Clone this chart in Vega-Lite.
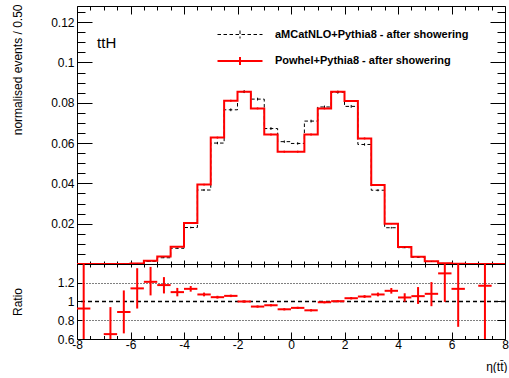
{
  "$schema": "https://vega.github.io/schema/vega-lite/v6.json",
  "padding": {"left": 10, "top": 3, "right": 0, "bottom": 0},
  "spacing": 0,
  "bounds": "flush",
  "config": {
    "font": "Liberation Sans",
    "view": {"stroke": "black", "strokeWidth": 1},
    "axis": {
      "domain": false, "grid": false, "labelFlush": false,
      "labelFont": "Liberation Sans", "labelFontSize": 12, "labelColor": "black",
      "tickColor": "black", "tickWidth": 1,
      "titleFont": "Liberation Sans", "titleFontSize": 12, "titleFontWeight": "normal", "titleColor": "black"
    }
  },
  "datasets": {
    "h": [
      {"lo": -8, "hi": -7.5, "c": -7.75, "amc": 0.000011, "amc_e": 0.000005, "pow": 0.00001, "pow_e": 0.000005, "r": 0.925, "rlo": 0.5, "rhi": 1.5},
      {"lo": -7.5, "hi": -7, "c": -7.25, "amc": 0, "amc_e": 0, "pow": 0, "pow_e": 0, "r": null, "rlo": null, "rhi": null},
      {"lo": -7, "hi": -6.5, "c": -6.75, "amc": 0.00003, "amc_e": 0.00001, "pow": 0.00002, "pow_e": 0.00001, "r": 0.652, "rlo": 0.5, "rhi": 0.94},
      {"lo": -6.5, "hi": -6, "c": -6.25, "amc": 0.00006, "amc_e": 0.00002, "pow": 0.00005, "pow_e": 0.00002, "r": 0.888, "rlo": 0.66, "rhi": 1.118},
      {"lo": -6, "hi": -5.5, "c": -5.75, "amc": 0.00026, "amc_e": 0.00004, "pow": 0.0003, "pow_e": 0.00004, "r": 1.14, "rlo": 0.925, "rhi": 1.355},
      {"lo": -5.5, "hi": -5, "c": -5.25, "amc": 0.0013, "amc_e": 0.0001, "pow": 0.0016, "pow_e": 0.0001, "r": 1.21, "rlo": 1.065, "rhi": 1.369},
      {"lo": -5, "hi": -4.5, "c": -4.75, "amc": 0.0031, "amc_e": 0.00015, "pow": 0.0037, "pow_e": 0.00015, "r": 1.175, "rlo": 1.086, "rhi": 1.26},
      {"lo": -4.5, "hi": -4, "c": -4.25, "amc": 0.0078, "amc_e": 0.0002, "pow": 0.0085, "pow_e": 0.0002, "r": 1.1, "rlo": 1.055, "rhi": 1.145},
      {"lo": -4, "hi": -3.5, "c": -3.75, "amc": 0.0181, "amc_e": 0.0004, "pow": 0.0204, "pow_e": 0.0003, "r": 1.135, "rlo": 1.105, "rhi": 1.165},
      {"lo": -3.5, "hi": -3, "c": -3.25, "amc": 0.0367, "amc_e": 0.0005, "pow": 0.0394, "pow_e": 0.0004, "r": 1.075, "rlo": 1.055, "rhi": 1.095},
      {"lo": -3, "hi": -2.5, "c": -2.75, "amc": 0.06, "amc_e": 0.0006, "pow": 0.0627, "pow_e": 0.0005, "r": 1.046, "rlo": 1.031, "rhi": 1.061},
      {"lo": -2.5, "hi": -2, "c": -2.25, "amc": 0.0765, "amc_e": 0.0007, "pow": 0.081, "pow_e": 0.0005, "r": 1.06, "rlo": 1.047, "rhi": 1.073},
      {"lo": -2, "hi": -1.5, "c": -1.75, "amc": 0.0855, "amc_e": 0.0007, "pow": 0.0854, "pow_e": 0.0005, "r": 1.0, "rlo": 0.988, "rhi": 1.012},
      {"lo": -1.5, "hi": -1, "c": -1.25, "amc": 0.0818, "amc_e": 0.0007, "pow": 0.0772, "pow_e": 0.0005, "r": 0.946, "rlo": 0.934, "rhi": 0.958},
      {"lo": -1, "hi": -0.5, "c": -0.75, "amc": 0.0672, "amc_e": 0.0007, "pow": 0.0643, "pow_e": 0.0005, "r": 0.96, "rlo": 0.948, "rhi": 0.972},
      {"lo": -0.5, "hi": 0, "c": -0.25, "amc": 0.0607, "amc_e": 0.0006, "pow": 0.0557, "pow_e": 0.0005, "r": 0.917, "rlo": 0.905, "rhi": 0.929},
      {"lo": 0, "hi": 0.5, "c": 0.25, "amc": 0.0598, "amc_e": 0.0006, "pow": 0.0557, "pow_e": 0.0005, "r": 0.932, "rlo": 0.92, "rhi": 0.944},
      {"lo": 0.5, "hi": 1, "c": 0.75, "amc": 0.0709, "amc_e": 0.0007, "pow": 0.0642, "pow_e": 0.0005, "r": 0.906, "rlo": 0.894, "rhi": 0.918},
      {"lo": 1, "hi": 1.5, "c": 1.25, "amc": 0.0779, "amc_e": 0.0007, "pow": 0.0772, "pow_e": 0.0005, "r": 0.992, "rlo": 0.98, "rhi": 1.004},
      {"lo": 1.5, "hi": 2, "c": 1.75, "amc": 0.0852, "amc_e": 0.0007, "pow": 0.0854, "pow_e": 0.0005, "r": 1.003, "rlo": 0.991, "rhi": 1.015},
      {"lo": 2, "hi": 2.5, "c": 2.25, "amc": 0.0782, "amc_e": 0.0007, "pow": 0.0809, "pow_e": 0.0005, "r": 1.035, "rlo": 1.022, "rhi": 1.048},
      {"lo": 2.5, "hi": 3, "c": 2.75, "amc": 0.0593, "amc_e": 0.0006, "pow": 0.0623, "pow_e": 0.0005, "r": 1.053, "rlo": 1.038, "rhi": 1.068},
      {"lo": 3, "hi": 3.5, "c": 3.25, "amc": 0.0366, "amc_e": 0.0005, "pow": 0.0392, "pow_e": 0.0004, "r": 1.075, "rlo": 1.055, "rhi": 1.095},
      {"lo": 3.5, "hi": 4, "c": 3.75, "amc": 0.018, "amc_e": 0.0004, "pow": 0.02, "pow_e": 0.0003, "r": 1.114, "rlo": 1.084, "rhi": 1.144},
      {"lo": 4, "hi": 4.5, "c": 4.25, "amc": 0.0081, "amc_e": 0.0002, "pow": 0.0084, "pow_e": 0.0002, "r": 1.043, "rlo": 0.998, "rhi": 1.088},
      {"lo": 4.5, "hi": 5, "c": 4.75, "amc": 0.0034, "amc_e": 0.00015, "pow": 0.0036, "pow_e": 0.00015, "r": 1.057, "rlo": 0.974, "rhi": 1.154},
      {"lo": 5, "hi": 5.5, "c": 5.25, "amc": 0.0013, "amc_e": 0.0001, "pow": 0.0014, "pow_e": 0.0001, "r": 1.082, "rlo": 0.95, "rhi": 1.207},
      {"lo": 5.5, "hi": 6, "c": 5.75, "amc": 0.0003, "amc_e": 0.00004, "pow": 0.0004, "pow_e": 0.00004, "r": 1.3, "rlo": 0.996, "rhi": 1.5},
      {"lo": 6, "hi": 6.5, "c": 6.25, "amc": 0.00007, "amc_e": 0.00002, "pow": 0.00008, "pow_e": 0.00002, "r": 1.135, "rlo": 0.73, "rhi": 1.5},
      {"lo": 6.5, "hi": 7, "c": 6.75, "amc": 0, "amc_e": 0, "pow": 0, "pow_e": 0, "r": null, "rlo": null, "rhi": null},
      {"lo": 7, "hi": 7.5, "c": 7.25, "amc": 0.000017, "amc_e": 0.00001, "pow": 0.00002, "pow_e": 0.00001, "r": 1.168, "rlo": 0.5, "rhi": 1.5},
      {"lo": 7.5, "hi": 8, "c": 7.75, "amc": 0, "amc_e": 0, "pow": 0, "pow_e": 0, "r": null, "rlo": null, "rhi": null},
      {"lo": 8, "hi": null, "c": null, "amc": 0, "amc_e": null, "pow": 0, "pow_e": null, "r": null, "rlo": null, "rhi": null}
    ]
  },
  "vconcat": [
    {
      "width": 428,
      "height": 258,
      "data": {"name": "h"},
      "resolve": {"axis": {"x": "independent", "y": "independent"}},
      "layer": [
        {
          "transform": [{"filter": "datum.c != null"}],
          "mark": {"type": "rule", "opacity": 0},
          "encoding": {
            "x": {"field": "c", "type": "quantitative", "scale": {"domain": [-8, 8], "nice": false, "zero": false}, "axis": null},
            "y": {"field": "pow", "type": "quantitative", "scale": {"domain": [0, 0.128], "nice": false}, "axis": {"orient": "right", "values": [0.005, 0.01, 0.015, 0.02, 0.025, 0.03, 0.035, 0.04, 0.045, 0.05, 0.055, 0.06, 0.065, 0.07, 0.075, 0.08, 0.085, 0.09, 0.095, 0.1, 0.105, 0.11, 0.115, 0.12, 0.125], "tickSize": -8, "labels": false, "title": null}}
          }
        },
        {
          "transform": [{"fold": ["amc", "pow"], "as": ["s", "v"]}],
          "mark": {"type": "line", "interpolate": "step-after", "clip": true},
          "encoding": {
            "x": {"field": "lo", "type": "quantitative", "scale": {"domain": [-8, 8], "nice": false, "zero": false}, "axis": {"orient": "bottom", "values": [-8, -6, -4, -2, 0, 2, 4, 6, 8], "tickSize": -4, "labels": false, "title": null}},
            "y": {"field": "v", "type": "quantitative", "scale": {"domain": [0, 0.128], "nice": false}, "axis": {"orient": "left", "values": [0.02, 0.04, 0.06, 0.08, 0.1, 0.12], "ticks": false, "labelPadding": 3, "labelExpr": "'' + datum.value", "title": "normalised events / 0.50", "titleAnchor": "end", "titleAlign": "right", "titleAngle": 270, "titleBaseline": "bottom", "titleX": -53, "titleY": -2}},
            "color": {"field": "s", "type": "nominal", "scale": {"domain": ["amc", "pow"], "range": ["black", "red"]},
              "legend": {"orient": "none", "legendX": 152, "legendY": 18, "title": null, "padding": 0, "symbolType": "M-2.25,0L2.25,0M0,-0.4L0,0.4", "symbolSize": 400, "rowPadding": 9, "labelOffset": 24, "labelFont": "Liberation Sans", "labelFontSize": 11, "labelFontWeight": "bold", "labelColor": "black", "labelLimit": 300,
                "labelExpr": "datum.label == 'amc' ? 'aMCatNLO+Pythia8 - after showering' : 'Powhel+Pythia8 - after showering'"}},
            "strokeDash": {"field": "s", "type": "nominal", "scale": {"domain": ["amc", "pow"], "range": [[3.5, 2.5], [1, 0]]}},
            "strokeWidth": {"field": "s", "type": "nominal", "scale": {"domain": ["amc", "pow"], "range": [1, 2]}}
          }
        },
        {
          "transform": [{"filter": "datum.c != null"}],
          "mark": {"type": "errorbar", "color": "black", "thickness": 1},
          "encoding": {
            "x": {"field": "c", "type": "quantitative", "scale": {"domain": [-8, 8], "nice": false, "zero": false}, "axis": {"orient": "top", "values": [-8, -6, -4, -2, 0, 2, 4, 6, 8], "tickSize": -8, "labels": false, "title": null}},
            "y": {"field": "amc", "type": "quantitative", "scale": {"domain": [0, 0.128], "nice": false}, "axis": {"orient": "right", "values": [0.02, 0.04, 0.06, 0.08, 0.1, 0.12], "tickSize": -15, "labels": false, "title": null}},
            "yError": {"field": "amc_e"}
          }
        },
        {
          "transform": [{"filter": "datum.c != null"}],
          "mark": {"type": "errorbar", "color": "red", "thickness": 1.5},
          "encoding": {
            "x": {"field": "c", "type": "quantitative", "scale": {"domain": [-8, 8], "nice": false, "zero": false}, "axis": {"orient": "bottom", "values": [-7.5, -7, -6.5, -5.5, -5, -4.5, -3.5, -3, -2.5, -1.5, -1, -0.5, 0.5, 1, 1.5, 2.5, 3, 3.5, 4.5, 5, 5.5, 6.5, 7, 7.5], "tickSize": -3, "labels": false, "title": null}},
            "y": {"field": "pow", "type": "quantitative", "scale": {"domain": [0, 0.128], "nice": false}, "axis": {"orient": "left", "values": [0.02, 0.04, 0.06, 0.08, 0.1, 0.12], "tickSize": -15, "labels": false, "title": null}},
            "yError": {"field": "pow_e"}
          }
        },
        {
          "data": {"values": [{"label": "ttH"}]},
          "mark": {"type": "text", "align": "left", "baseline": "alphabetic", "fontSize": 15, "font": "Liberation Sans", "color": "black"},
          "encoding": {
            "text": {"field": "label", "type": "nominal"},
            "x": {"datum": -7.25, "type": "quantitative", "scale": {"domain": [-8, 8], "nice": false, "zero": false}, "axis": {"orient": "top", "values": [-7.5, -7, -6.5, -5.5, -5, -4.5, -3.5, -3, -2.5, -1.5, -1, -0.5, 0.5, 1, 1.5, 2.5, 3, 3.5, 4.5, 5, 5.5, 6.5, 7, 7.5], "tickSize": -4, "labels": false, "title": null}},
            "y": {"datum": 0.1072, "type": "quantitative", "scale": {"domain": [0, 0.128], "nice": false}, "axis": {"orient": "left", "values": [0.005, 0.01, 0.015, 0.025, 0.03, 0.035, 0.045, 0.05, 0.055, 0.065, 0.07, 0.075, 0.085, 0.09, 0.095, 0.105, 0.11, 0.115, 0.125], "tickSize": -8, "labels": false, "title": null}}
          }
        }
      ]
    },
    {
      "width": 428,
      "height": 75,
      "data": {"name": "h"},
      "resolve": {"axis": {"x": "independent", "y": "independent"}},
      "layer": [
        {
          "transform": [{"filter": "datum.r != null"}],
          "mark": {"type": "rule", "opacity": 0},
          "encoding": {
            "x": {"field": "c", "type": "quantitative", "scale": {"domain": [-8, 8], "nice": false, "zero": false}, "axis": {"orient": "top", "values": [-8, -6, -4, -2, 0, 2, 4, 6, 8, -7.5, -7, -6.5, -5.5, -5, -4.5, -3.5, -3, -2.5, -1.5, -1, -0.5, 0.5, 1, 1.5, 2.5, 3, 3.5, 4.5, 5, 5.5, 6.5, 7, 7.5], "tickSize": -3, "labels": false, "title": null}},
            "y": {"field": "r", "type": "quantitative", "scale": {"domain": [0.6, 1.4], "nice": false, "zero": false}, "axis": {"orient": "left", "values": [0.8, 1.2], "grid": true, "gridColor": "black", "gridDash": [1, 2], "gridWidth": 1, "ticks": false, "labels": false, "title": null}}
          }
        },
        {
          "data": {"values": [{"ref": 1}]},
          "mark": {"type": "rule", "color": "black", "strokeDash": [4, 3], "strokeWidth": 1.5},
          "encoding": {
            "y": {"field": "ref", "type": "quantitative", "scale": {"domain": [0.6, 1.4], "nice": false, "zero": false}, "axis": {"orient": "right", "values": [0.6, 0.8, 1, 1.2, 1.4], "tickSize": -8, "labels": false, "title": null}}
          }
        },
        {
          "transform": [{"filter": "datum.r != null"}],
          "mark": {"type": "rule", "color": "red", "strokeWidth": 2, "clip": true},
          "encoding": {
            "x": {"field": "lo", "type": "quantitative", "scale": {"domain": [-8, 8], "nice": false, "zero": false}, "axis": {"orient": "bottom", "values": [-8, -6, -4, -2, 0, 2, 4, 6, 8], "ticks": false, "labelPadding": 0, "labelExpr": "'' + datum.value", "title": "η(tt̄)", "titleAnchor": "end", "titleAlign": "right", "titleBaseline": "alphabetic", "titleX": 430, "titleY": 31}},
            "x2": {"field": "hi"},
            "y": {"field": "r", "type": "quantitative", "scale": {"domain": [0.6, 1.4], "nice": false, "zero": false}, "axis": {"orient": "left", "values": [0.6, 0.8, 1, 1.2], "ticks": false, "labelPadding": 3, "labelExpr": "'' + datum.value", "title": "Ratio", "titleAngle": 270, "titleBaseline": "bottom", "titleX": -53}}
          }
        },
        {
          "transform": [{"filter": "datum.r != null"}],
          "mark": {"type": "rule", "color": "red", "strokeWidth": 2, "clip": true},
          "encoding": {
            "x": {"field": "c", "type": "quantitative", "scale": {"domain": [-8, 8], "nice": false, "zero": false}, "axis": {"orient": "bottom", "values": [-8, -6, -4, -2, 0, 2, 4, 6, 8], "tickSize": -7, "labels": false, "title": null}},
            "y": {"field": "rlo", "type": "quantitative", "scale": {"domain": [0.6, 1.4], "nice": false, "zero": false}, "axis": {"orient": "left", "values": [0.6, 0.8, 1, 1.2, 1.4], "tickSize": -5, "labels": false, "title": null}},
            "y2": {"field": "rhi"}
          }
        },
        {
          "transform": [{"filter": "datum.r != null"}],
          "mark": {"type": "rule", "opacity": 0},
          "encoding": {
            "x": {"field": "c", "type": "quantitative", "scale": {"domain": [-8, 8], "nice": false, "zero": false}, "axis": {"orient": "bottom", "values": [-7.5, -7, -6.5, -5.5, -5, -4.5, -3.5, -3, -2.5, -1.5, -1, -0.5, 0.5, 1, 1.5, 2.5, 3, 3.5, 4.5, 5, 5.5, 6.5, 7, 7.5], "tickSize": -3.5, "labels": false, "title": null}},
            "y": {"field": "r", "type": "quantitative", "scale": {"domain": [0.6, 1.4], "nice": false, "zero": false}, "axis": null}
          }
        }
      ]
    }
  ]
}
